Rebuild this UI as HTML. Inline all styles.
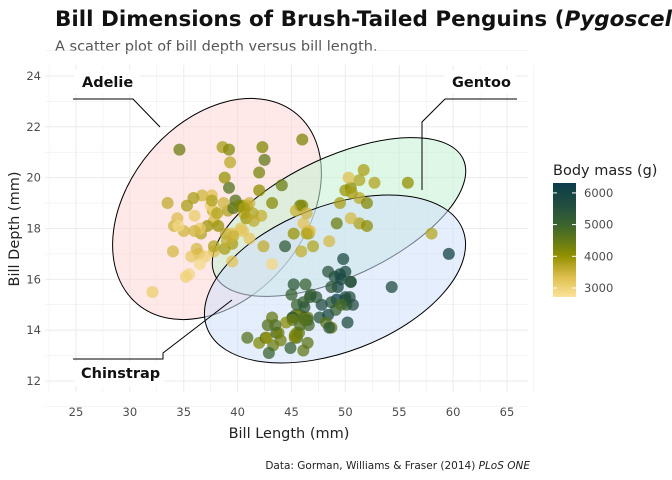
<!DOCTYPE html>
<html><head><meta charset="utf-8"><style>
body{margin:0;background:#fff;}
svg{display:block;font-family:"DejaVu Sans","Liberation Sans",sans-serif;}
</style></head><body>
<svg id="chart" width="672" height="480" viewBox="0 0 672 480">
<text x="55" y="26" font-size="21.5" font-weight="bold" fill="#111">Bill Dimensions of Brush-Tailed Penguins (<tspan font-style="italic">Pygoscelis</tspan>)</text>
<text x="55" y="51" font-size="14.5" fill="#555">A scatter plot of bill depth versus bill length.</text>
<g id="grid"></g>
<g id="ellipses">
<ellipse cx="217" cy="209" rx="124" ry="88" transform="rotate(-50 217 209)" fill="#fdd6d6" fill-opacity="0.55" stroke="#000" stroke-width="1"/>
<ellipse cx="339" cy="217" rx="137" ry="60" transform="rotate(-25 339 217)" fill="#c4f0d4" fill-opacity="0.55" stroke="#000" stroke-width="1"/>
<ellipse cx="335" cy="279" rx="137" ry="73" transform="rotate(-21 335 279)" fill="#cfe0fb" fill-opacity="0.55" stroke="#000" stroke-width="1"/>
</g>
<g id="points"></g>
<g fill="none" stroke="#000" stroke-width="1">
<polyline points="73,99 133,99 160,127"/>
<polyline points="517,99 445,99 422,122 422,190"/>
<polyline points="73,359 163,359 163,353 232,300"/>
</g>
<rect x="74" y="70" width="66" height="24" fill="#fff"/>
<text x="82" y="87" font-size="14.5" font-weight="bold" fill="#111">Adelie</text>
<rect x="444" y="70" width="72" height="24" fill="#fff"/>
<text x="452" y="87" font-size="14.5" font-weight="bold" fill="#111">Gentoo</text>
<rect x="74" y="362" width="90" height="24" fill="#fff"/>
<text x="81" y="378" font-size="14.5" font-weight="bold" fill="#111">Chinstrap</text>
<g id="axes"></g>
<text x="289" y="438" font-size="14.5" fill="#222" text-anchor="middle">Bill Length (mm)</text>
<text transform="translate(19 229) rotate(-90)" font-size="14.5" fill="#222" text-anchor="middle">Bill Depth (mm)</text>
<text x="530" y="469" font-size="10.5" fill="#222" text-anchor="end">Data: Gorman, Williams &amp; Fraser (2014) <tspan font-style="italic">PLoS ONE</tspan></text>
<text x="553" y="175" font-size="14.5" fill="#222">Body mass (g)</text>
<defs><linearGradient id="lg" x1="0" y1="1" x2="0" y2="0">
<stop offset="0" stop-color="#fbe39a"/><stop offset="0.17" stop-color="#e0c050"/><stop offset="0.36" stop-color="#929000"/><stop offset="0.5" stop-color="#617818"/><stop offset="0.64" stop-color="#3a6330"/><stop offset="0.81" stop-color="#224d40"/><stop offset="1" stop-color="#0b3c4b"/>
</linearGradient></defs>
<rect x="553" y="183" width="23" height="114" fill="url(#lg)"/>
<g id="legend"></g>
</svg>
<script>
const adelieLen=[39.1,39.5,40.3,36.7,39.3,38.9,39.2,34.1,42.0,37.8,37.8,41.1,38.6,34.6,36.6,38.7,42.5,34.4,46.0,37.8,37.7,35.9,38.2,38.8,35.3,40.6,40.5,37.9,40.5,39.5,37.2,39.5,40.9,36.4,39.2,38.8,42.2,37.6,39.8,36.5,40.8,36.0,44.1,37.0,39.6,41.1,37.5,36.0,42.3,39.6,40.1,35.0,42.0,34.5,41.4,39.0,40.6,36.5,37.6,35.7,33.5,32.1,35.5,43.2,45.8,41.5,36.2,38.1,34.0,35.2];
const adelieDep=[18.7,17.4,18.0,19.3,20.6,17.8,19.6,18.1,20.2,17.1,17.3,17.6,21.2,21.1,17.8,19.0,20.7,18.4,21.5,18.3,18.7,19.2,18.1,17.2,18.9,18.6,17.9,18.6,18.9,16.7,18.1,17.8,18.9,17.0,21.1,20.0,18.5,19.3,19.1,18.0,18.4,18.5,19.7,16.9,18.8,19.0,18.9,17.9,21.2,17.7,18.9,17.9,19.5,18.1,18.6,17.5,18.8,16.6,19.1,16.9,19.0,15.5,16.2,19.0,18.9,18.3,17.2,18.6,17.1,16.1];
const adelieMass=[3750,3800,3250,3450,3650,3625,4675,3475,4250,3300,3700,3200,3800,4400,3700,3450,4500,3325,4200,3400,3600,3800,3950,3800,3800,3550,3200,3150,3950,3250,3900,3300,3900,3325,4150,3950,3550,3300,4650,3150,3900,3100,4400,3000,4600,3425,2975,3450,4150,3500,4300,3450,4050,2900,3700,3550,3800,2850,3750,3150,3600,3050,2900,4100,4400,3600,3400,3700,3400,3000];
const chinLen=[46.5,50.0,51.3,45.4,52.7,45.2,46.1,51.3,46.0,51.3,46.6,51.7,47.0,52.0,45.9,50.5,50.3,58.0,46.4,49.2,42.4,48.5,43.2,50.6,46.7,52.0,50.5,49.5,46.4,55.8];
const chinDep=[17.9,19.5,19.2,18.7,19.8,17.8,18.2,18.2,18.9,19.9,17.8,20.3,17.3,18.1,17.1,19.6,20.0,17.8,18.6,18.2,17.3,17.5,16.6,19.4,17.9,19.0,18.4,19.0,17.8,19.8];
const chinMass=[3500,3900,3650,3525,3725,3950,3250,3750,4150,3700,3800,3775,3700,4050,3575,4050,3300,3700,3450,4400,3600,3400,2900,3800,3300,4150,3400,3800,3700,4000];
const gentooLen=[46.1,50.0,48.7,50.0,47.6,46.5,45.4,46.7,43.3,46.8,40.9,49.0,45.5,48.4,45.8,49.3,42.0,49.2,46.2,48.7,50.2,45.1,46.5,46.3,42.9,46.1,44.5,47.8,48.2,50.0,47.3,42.8,45.1,59.6,49.1,48.4,42.6,44.4,44.0,48.7,42.7,49.6,45.3,49.6,50.5,43.6,45.5,50.5,44.9,45.2,46.6,48.5,45.1,50.1,46.5,45.0,43.8,45.5,43.2,50.4,45.3,46.2,45.7,54.3,45.8,49.8,46.2,49.5,43.5,50.7];
const gentooDep=[13.2,16.3,14.1,15.2,14.5,13.5,14.6,15.3,13.4,15.4,13.7,16.1,13.7,14.6,14.6,15.7,13.5,15.2,14.5,15.1,14.3,14.5,14.5,15.8,13.1,15.1,14.3,15.0,14.3,15.3,15.3,14.2,14.5,17.0,14.8,16.3,13.7,17.3,13.6,15.7,13.7,16.0,13.7,15.0,15.9,13.9,13.9,15.9,13.3,15.8,14.2,14.1,14.4,15.0,14.4,15.4,13.9,15.0,14.5,15.3,13.8,14.9,13.9,15.7,14.2,16.8,14.4,16.2,14.2,15.0];
const gentooMass=[4500,5700,4450,5700,5400,4550,4800,5200,4400,5150,4650,5550,4650,5850,4200,5850,4150,6300,4800,5350,5700,5000,4400,5050,5000,5100,4100,5650,4600,5550,5250,4700,5050,6050,5150,5400,4950,5250,4350,5350,3950,5700,4300,4750,5550,4900,4200,5400,5100,5300,4850,5300,4400,5000,4900,5050,4300,5000,4450,5550,4200,5300,4400,5650,4700,5700,4650,5800,4700,5550];
const xTicks=[25,30,35,40,45,50,55,60,65];
const yTicks=[12,14,16,18,20,22,24];
const massTicks=[3000,4000,5000,6000];

const NS='http://www.w3.org/2000/svg';
const X=v=>76+(v-25)*10.775;
const Y=v=>381-(v-12)*25.42;
const LY=m=>288-(m-3000)*0.0317;
const stops=[[2700,[251,227,154]],[3300,[224,192,80]],[4000,[146,144,0]],[4500,[97,120,24]],[5000,[58,99,48]],[5600,[34,77,64]],[6300,[11,60,75]]];
function col(m){for(let i=1;i<stops.length;i++){if(m<=stops[i][0]||i==stops.length-1){const a=stops[i-1],b=stops[i];let t=Math.max(0,Math.min(1,(m-a[0])/(b[0]-a[0])));const c=a[1].map((v,k)=>Math.round(v+(b[1][k]-v)*t));return `rgb(${c})`;}}}
function mk(tag,at,parent){const e=document.createElementNS(NS,tag);for(const k in at)e.setAttribute(k,at[k]);parent.appendChild(e);return e;}
const grid=document.getElementById('grid'),axes=document.getElementById('axes');
for(let v=22.5;v<=67.5;v+=2.5){const major=v%5===0;const l=mk('line',{x1:X(v),x2:X(v),y1:65,y2:392,stroke:'#ebebeb','stroke-width':major?1:0.5},grid);

}
for(let v=11;v<=25;v+=1){const major=v%2===0;const l=mk('line',{x1:45,x2:528,y1:Y(v),y2:Y(v),stroke:'#ebebeb','stroke-width':major?1:0.5},grid);

}
xTicks.forEach(v=>{const t=mk('text',{x:X(v),y:416,'font-size':11.5,fill:'#4d4d4d','text-anchor':'middle'},axes);t.textContent=v;

});
yTicks.forEach(v=>{const t=mk('text',{x:41,y:Y(v)+4,'font-size':11.5,fill:'#4d4d4d','text-anchor':'end'},axes);t.textContent=v;

});
const pts=document.getElementById('points');
function draw(L,D,M,name){for(let i=0;i<L.length;i++){const c=mk('circle',{cx:X(L[i]),cy:Y(D[i]),r:6,fill:col(M[i]),'fill-opacity':0.75},pts);

}}
draw(adelieLen,adelieDep,adelieMass,'adelie');
draw(chinLen,chinDep,chinMass,'chinstrap');
draw(gentooLen,gentooDep,gentooMass,'gentoo');
const lg=document.getElementById('legend');
massTicks.forEach(m=>{const y=LY(m);
const a=mk('line',{x1:553,x2:557,y1:y,y2:y,stroke:'#fff','stroke-width':1},lg);


const b=mk('line',{x1:572,x2:576,y1:y,y2:y,stroke:'#fff','stroke-width':1},lg);


const t=mk('text',{x:584,y:y+4,'font-size':11.5,fill:'#4d4d4d'},lg);t.textContent=m;

});
</script>
</body></html>
